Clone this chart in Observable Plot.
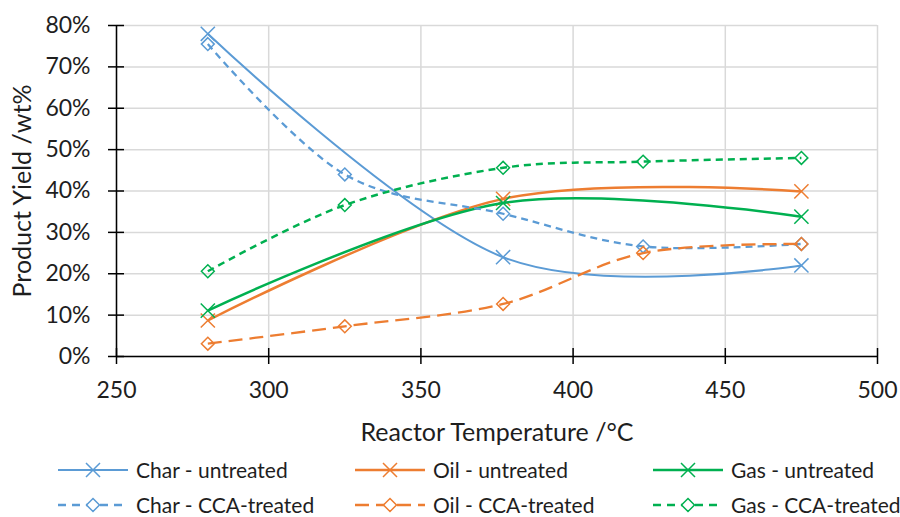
<!DOCTYPE html>
<html>
<head>
<meta charset="utf-8">
<script src="https://cdn.jsdelivr.net/npm/d3@7"></script>
<script src="https://cdn.jsdelivr.net/npm/@observablehq/plot@0.6"></script>
<style>
  body { margin: 0; background: #fff; font-family: Lato, "Open Sans", sans-serif; }
  #chart { width: 900px; height: 517px; position: relative; overflow: hidden; }
  #legend { position: absolute; left: 0; top: 450px; width: 900px; height: 67px; }
  .item { position: absolute; display: flex; align-items: center; height: 22px; line-height: 22px; font-size: 21px; color: #1e1e1e; white-space: nowrap; }
  .item svg { margin-right: 8px; }
</style>
</head>
<body>
<div id="chart"></div>
<script>
// Reaction temperatures (°C) at which each feedstock was run
const untreatedTemps = [280, 377, 475];
const treatedTemps = [280, 325, 377, 423, 475];

// Product yields, wt%
const charUntreated = [78, 24, 22];
const oilUntreated = [8.7, 38.1, 39.9];
const gasUntreated = [11.1, 37.1, 33.8];
const charTreated = [75.5, 44.0, 34.5, 26.6, 27.2];
const oilTreated = [3.1, 7.3, 12.7, 25.0, 27.2];
const gasTreated = [20.6, 36.6, 45.6, 47.1, 48.0];

// Axis ticks
const xTicks = [250, 300, 350, 400, 450, 500];
const yTicks = [0, 10, 20, 30, 40, 50, 60, 70, 80];

const seriesNames = ["Char - untreated", "Oil - untreated", "Gas - untreated",
                     "Char - CCA-treated", "Oil - CCA-treated", "Gas - CCA-treated"];

const BLUE = "#5B9BD5", ORANGE = "#ED7D31", GREEN = "#00B050";
const INK = "#1e1e1e";

const series = [
  {name: seriesNames[0], temps: untreatedTemps, values: charUntreated, color: BLUE, dash: null, symbol: "times", width: 2},
  {name: seriesNames[1], temps: untreatedTemps, values: oilUntreated, color: ORANGE, dash: null, symbol: "times", width: 2.5},
  {name: seriesNames[2], temps: untreatedTemps, values: gasUntreated, color: GREEN, dash: null, symbol: "times", width: 2.5},
  {name: seriesNames[3], temps: treatedTemps, values: charTreated, color: BLUE, dash: "7,5", symbol: "diamond2", width: 2.3},
  {name: seriesNames[4], temps: treatedTemps, values: oilTreated, color: ORANGE, dash: "14,7", symbol: "diamond2", width: 2.3},
  {name: seriesNames[5], temps: treatedTemps, values: gasTreated, color: GREEN, dash: "7,5", symbol: "diamond2", width: 2.5}
];

const rowsOf = s => s.temps.map((t, i) => ({temp: t, yield: s.values[i]}));

// Frame geometry
const W = 900, H = 450, ML = 116, MR = 23, MT = 25, MB = 94;
const frameW = W - ML - MR, frameH = H - MT - MB;
const TICK = 8; // tick marks cross the axis lines, TICK px each side

const marks = [
  Plot.gridX(xTicks, {stroke: "#d9d9d9", strokeOpacity: 1, strokeWidth: 1.5}),
  Plot.gridY(yTicks, {stroke: "#d9d9d9", strokeOpacity: 1, strokeWidth: 1.5}),
  Plot.ruleY([0], {stroke: "#000", strokeWidth: 1.5}),
  Plot.ruleX([250], {stroke: "#000", strokeWidth: 1.5}),
  // crossing tick marks
  Plot.tickX(xTicks, {x: d => d, stroke: "#000", strokeWidth: 1.5, insetTop: frameH - 2 * TICK, dy: TICK}),
  Plot.tickY(yTicks, {y: d => d, stroke: "#000", strokeWidth: 1.5, insetRight: frameW - 2 * TICK, dx: -TICK}),
  // tick labels
  Plot.text(xTicks, {x: d => d, text: d => String(d), frameAnchor: "bottom", lineAnchor: "middle", dy: 34, fontSize: 23, fill: INK}),
  Plot.text(yTicks, {y: d => d, text: d => d + "%", frameAnchor: "left", textAnchor: "end", lineAnchor: "middle", dx: -26, fontSize: 23, fill: INK})
];

for (const s of series) {
  const rows = rowsOf(s);
  marks.push(Plot.line(rows, {x: "temp", y: "yield", curve: "cardinal", stroke: s.color,
    strokeWidth: s.width, strokeDasharray: s.dash || undefined, strokeLinecap: "butt"}));
  marks.push(Plot.dot(rows, {x: "temp", y: "yield", symbol: s.symbol, stroke: s.color,
    fill: "none", strokeWidth: 1.5, r: s.symbol === "times" ? 6.5 : 5.8}));
}

marks.push(
  Plot.text(["Reactor Temperature /°C"], {frameAnchor: "bottom", textAnchor: "middle", lineAnchor: "middle", dy: 76, fontSize: 25, fill: INK}),
  Plot.text(["Product Yield /wt%"], {frameAnchor: "left", textAnchor: "middle", lineAnchor: "middle", dx: -94, rotate: -90, fontSize: 25, fill: INK})
);

const chart = Plot.plot({
  width: W,
  height: H,
  marginTop: MT,
  marginLeft: ML,
  marginRight: MR,
  marginBottom: MB,
  style: {fontFamily: "Lato, 'Open Sans', sans-serif", color: INK, background: "#fff"},
  x: {domain: [250, 500], axis: null},
  y: {domain: [0, 80], axis: null},
  marks
});

const root = document.getElementById("chart");
root.appendChild(chart);

// Legend below the plot, three items per row
const legend = document.createElement("div");
legend.id = "legend";
const lefts = [58, 355, 653];
const tops = [9, 44];
series.forEach((s, i) => {
  const item = document.createElement("div");
  item.className = "item";
  item.style.left = lefts[i % 3] + "px";
  item.style.top = tops[Math.floor(i / 3)] + "px";
  const sw = d3.create("svg").attr("width", 70).attr("height", 20);
  sw.append("line").attr("x1", 0).attr("x2", 70).attr("y1", 10).attr("y2", 10)
    .attr("stroke", s.color).attr("stroke-width", s.width)
    .attr("stroke-dasharray", s.dash ? (s.dash === "14,7" ? "14,7" : "8,6") : null);
  if (s.symbol === "times") {
    sw.append("path").attr("d", "M28,3L42,17M42,3L28,17").attr("stroke", s.color).attr("stroke-width", 1.5).attr("fill", "none");
  } else {
    sw.append("path").attr("d", "M35,3.5L41.5,10L35,16.5L28.5,10Z").attr("stroke", s.color).attr("stroke-width", 1.5).attr("fill", "#fff");
  }
  item.appendChild(sw.node());
  const label = document.createElement("span");
  label.textContent = s.name;
  item.appendChild(label);
  legend.appendChild(item);
});
root.appendChild(legend);
</script>
</body>
</html>
